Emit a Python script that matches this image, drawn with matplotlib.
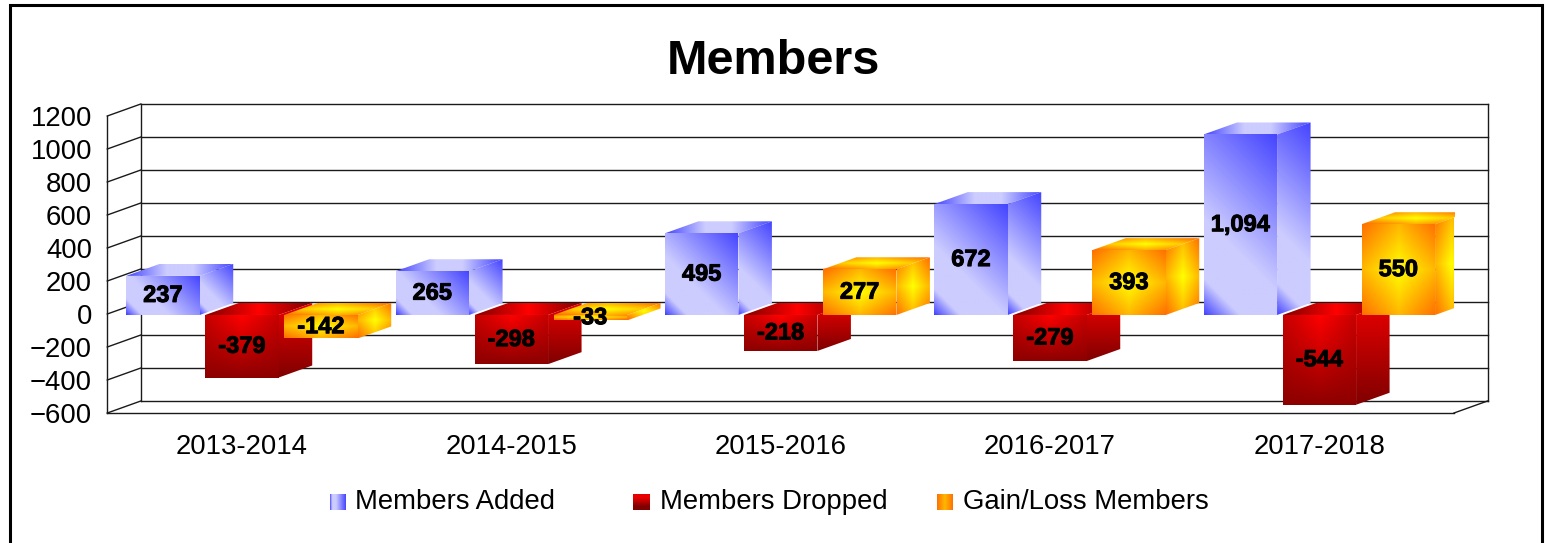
import numpy as np
import matplotlib
matplotlib.use("Agg")
import matplotlib.pyplot as plt
import matplotlib.patheffects as pe
from matplotlib.patches import Polygon, Rectangle

plt.rcParams['font.family'] = ['Liberation Sans', 'DejaVu Sans']

# Data
years = ["2013-2014", "2014-2015", "2015-2016", "2016-2017", "2017-2018"]
members_added = [237, 265, 495, 672, 1094]
members_dropped = [-379, -298, -218, -279, -544]
gain_loss = [-142, -33, 277, 393, 550]
series_names = ["Members Added", "Members Dropped", "Gain/Loss Members"]
y_ticks = [-600, -400, -200, 0, 200, 400, 600, 800, 1000, 1200]

W, H = 1546, 543

# front plane of the fake 3D box, in pixels
left_px, right_px = 107.3, 1454.0
top_px, bottom_px = 116.0, 413.0
px_x = (right_px - left_px) / 5
px_y = (bottom_px - top_px) / 1800

# depth of the box, in data units
dx = 33.5 / px_x
dy = 12 / px_y
bar_w = 73.5 / px_x
bar_pitch = 79 / px_x
base = -6  # bars sit about a pixel under the zero line


def ramp(t, stops, colors):
    cols = np.array([matplotlib.colors.to_rgb(c) for c in colors])
    return np.dstack([np.interp(t, stops, cols[:, i]) for i in range(3)])


def grid(x0, x1, y0, y1):
    w = max(int((x1 - x0) * px_x), 2)
    h = max(int((y1 - y0) * px_y), 2)
    return np.meshgrid(np.linspace(0, 1, w), np.linspace(0, 1, h)), w, h


def blue_front(x0, x1, y0, y1):
    (u, v), w, h = grid(x0, x1, y0, y1)
    d = ((1 - u) * w + v * h) / (w + h)
    return ramp(d, [0, 0.62, 0.86, 1], ["#4444FF", "#CCCCFF", "#CCCCFF", "#4444FF"])


def blue_top(x0, x1, y0, y1):
    (u, v), w, h = grid(x0, x1, y0, y1)
    d = np.abs(2 * u - 1)
    return ramp(d, [0, 0.25, 1], ["#CCCCFF", "#CCCCFF", "#4444FF"])


def red_front(x0, x1, y0, y1):
    (u, v), w, h = grid(x0, x1, y0, y1)
    d = np.clip(v * 0.9 + 0.45 * np.abs(2 * u - 1) * (1 - v), 0, 1)
    return ramp(d, [0, 1], ["#FF0000", "#800000"])


def red_side(x0, x1, y0, y1):
    (u, v), w, h = grid(x0, x1, y0, y1)
    return ramp(v, [0, 1], ["#E80000", "#800000"])


def red_top(x0, x1, y0, y1):
    (u, v), w, h = grid(x0, x1, y0, y1)
    return ramp(np.abs(2 * u - 1), [0, 1], ["#FF0000", "#800000"])


def gold(x0, x1, y0, y1):
    (u, v), w, h = grid(x0, x1, y0, y1)
    d = (np.abs(2 * u - 1) + np.abs(2 * v - 1)) / 2
    return ramp(d, [0, 1], ["#FFFF00", "#FF7000"])


styles = [
    (blue_front, blue_front, blue_top),
    (red_front, red_side, red_top),
    (gold, gold, gold),
]

fig = plt.figure(figsize=(W / 100, H / 100), dpi=100, facecolor="white")
ax = fig.add_axes([left_px / W, 1 - bottom_px / H,
                   (right_px - left_px) / W, (bottom_px - top_px) / H])
ax.set_xlim(0, 5)
ax.set_ylim(-600, 1200)
ax.set_autoscale_on(False)
ax.patch.set_alpha(0)
for s in ax.spines.values():
    s.set_visible(False)


def face(func, pts, z):
    xs = [p[0] for p in pts]
    ys = [p[1] for p in pts]
    box = (min(xs), max(xs), min(ys), max(ys))
    im = ax.imshow(func(*box), extent=box, origin="upper", aspect="auto",
                   interpolation="bilinear", zorder=z)
    im.set_clip_path(Polygon(pts, closed=True, transform=ax.transData))
    im.set_clip_box(None)


# walls and grid
wall = dict(color="#1a1a1a", lw=1.0, clip_on=False, zorder=1)
for t in y_ticks:
    ax.plot([0, dx], [t, t + dy], **wall)
    ax.plot([dx, 5 + dx], [t + dy, t + dy], **wall)
ax.plot([0, 0], [-600, 1200], **wall)
ax.plot([dx, dx], [-600 + dy, 1200 + dy], **wall)
ax.plot([5 + dx, 5 + dx], [-600 + dy, 1200 + dy], **wall)
ax.plot([0, 5], [-600, -600], **wall)
ax.plot([5, 5 + dx], [-600, -600 + dy], **wall)

# bars, painted front to back in series order
z = 3
labels = []
for g in range(len(years)):
    start = g + 0.5 - (2 * bar_pitch + bar_w) / 2
    for k, vals in enumerate([members_added, members_dropped, gain_loss]):
        v = vals[g]
        x0 = start + k * bar_pitch
        x1 = x0 + bar_w
        lo = min(v, 0) + base
        hi = max(v, 0) + base
        f_front, f_side, f_top = styles[k]
        face(f_top, [(x0, hi), (x1, hi), (x1 + dx, hi + dy), (x0 + dx, hi + dy)], z)
        face(f_side, [(x1, lo), (x1 + dx, lo + dy), (x1 + dx, hi + dy), (x1, hi)], z + 0.1)
        face(f_front, [(x0, lo), (x1, lo), (x1, hi), (x0, hi)], z + 0.2)
        z += 1
        labels.append(((x0 + x1) / 2, (lo + hi) / 2, v))

for x, y, v in labels:
    ax.text(x, y, f"{v:,}", ha="center", va="center", fontsize=17, fontweight="bold",
            color="black", zorder=100,
            path_effects=[pe.withStroke(linewidth=0.7, foreground="black")])

ax.set_yticks(y_ticks)
ax.set_xticks(np.arange(len(years)) + 0.5)
ax.set_xticklabels(years)
ax.tick_params(axis="y", length=0, pad=11, labelsize=19.8, colors="black")
ax.tick_params(axis="x", length=0, pad=15, labelsize=19.8, colors="black")

fig.text(773 / W, 1 - 62 / H, "Members", ha="center", va="center",
         fontsize=35, fontweight="bold")

# legend, swatches carry the same fills as the bars
swatch_x = [330, 633, 937]
label_x = [355, 660, 963]
funcs = [blue_front, red_side, gold]
for name, sx, lx, fn in zip(series_names, swatch_x, label_x, funcs):
    a = fig.add_axes([sx / W, 1 - 510 / H, 16 / W, 16 / H])
    a.imshow(fn(0, 1, 0, 1), aspect="auto", interpolation="bilinear")
    a.axis("off")
    fig.text(lx / W, 1 - 502 / H, name, ha="left", va="center", fontsize=19.8)

# outer frame, runs off the bottom of the image
fig.add_artist(Rectangle((9.5 / W, -0.05), (1542 - 9.5) / W, 1.05 - 5 / H, fill=False,
                         edgecolor="black", lw=2.2, transform=fig.transFigure))

fig.savefig("out.png", dpi=100)
